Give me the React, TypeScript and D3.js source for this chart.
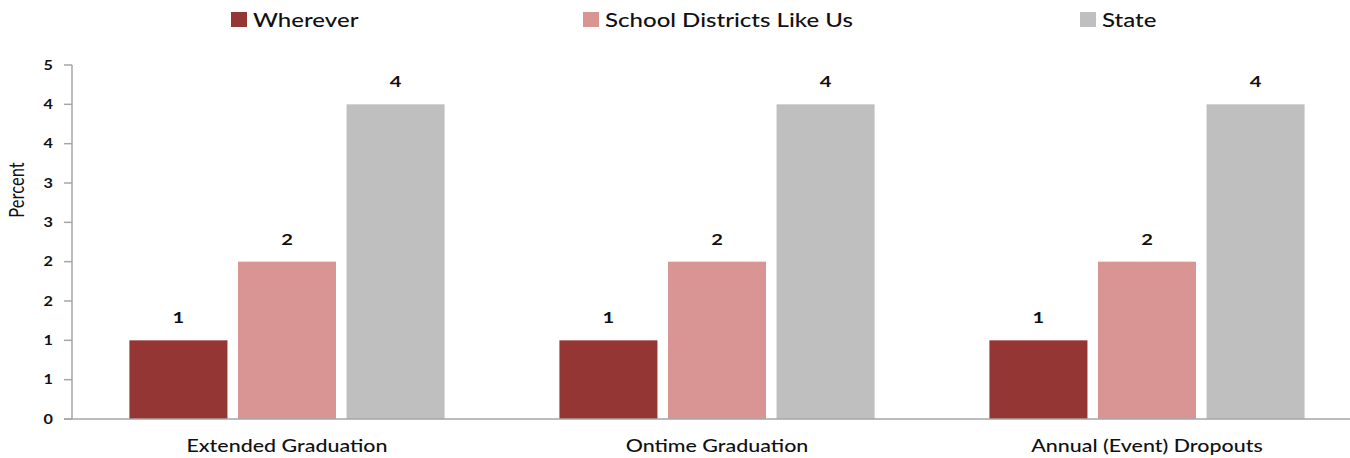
import React from "react";
import * as d3 from "d3";

const categories = ["Extended Graduation", "Ontime Graduation", "Annual (Event) Dropouts"];
const seriesNames = ["Wherever", "School Districts Like Us", "State"];
const seriesColors = ["#943634", "#D99594", "#BFBFBF"];
const wherever = [1.0, 1.0, 1.0];
const districtsLikeUs = [2.0, 2.0, 2.0];
const stateValues = [4.0, 4.0, 4.0];
const valueLabels = [["1", "1", "1"], ["2", "2", "2"], ["4", "4", "4"]];
const yTicks = [0, 0.5, 1, 1.5, 2, 2.5, 3, 3.5, 4, 4.5];
const yTickLabels = ["0", "1", "1", "2", "2", "3", "3", "4", "4", "5"];
const legendX = [231, 583, 1080];

const W = 1350;
const H = 458;
const SX = 1.3;
const FONT = "Lato, 'Liberation Sans', sans-serif";
const TEXT = "#111";

function SText({ x, y, children, size, weight = 400, anchor = "start", rotate = 0 }: any) {
  return (
    <text
      transform={`translate(${x},${y}) scale(${SX},1) rotate(${rotate})`}
      fontFamily={FONT}
      fontSize={size}
      fontWeight={weight}
      textAnchor={anchor}
      fill={TEXT}
    >
      {children}
    </text>
  );
}

export default function App() {
  const series = [wherever, districtsLikeUs, stateValues];
  const x0 = d3.scaleBand<string>().domain(categories).range([72, 1362]).paddingInner(0.267).paddingOuter(0.1335);
  const x1 = d3.scaleBand<number>().domain([0, 1, 2]).range([0, x0.bandwidth()]).paddingInner(0.097);
  const y = d3.scaleLinear().domain([0, 4.5]).range([419, 65]);
  const axisColor = "#A6A6A6";

  return (
    <svg width={W} height={H} style={{ position: "absolute", left: 0, top: 0, background: "#fff" }}>
      {seriesNames.map((name, i) => (
        <g key={name}>
          <rect x={legendX[i]} y={12} width={16} height={15} fill={seriesColors[i]} />
          <SText x={legendX[i] + 22} y={26.5} size={18.5} weight={500}>{name}</SText>
        </g>
      ))}
      <line x1={72} x2={72} y1={y(4.5)} y2={y(0)} stroke={axisColor} strokeWidth={1.5} />
      {yTicks.map((t, i) => (
        <g key={i}>
          <line x1={64} x2={72} y1={y(t)} y2={y(t)} stroke={axisColor} strokeWidth={1.5} />
          <SText x={53} y={y(t) + 4.5} size={12.5} weight={700} anchor="end">{yTickLabels[i]}</SText>
        </g>
      ))}
      <SText x={24} y={190} size={16.5} anchor="middle" rotate={-90}>Percent</SText>
      {categories.map((c, ci) => (
        <g key={c}>
          {series.map((s, si) => (
            <g key={si}>
              <rect
                x={(x0(c) as number) + (x1(si) as number)}
                y={y(s[ci])}
                width={x1.bandwidth()}
                height={y(0) - y(s[ci])}
                fill={seriesColors[si]}
              />
              <SText
                x={(x0(c) as number) + (x1(si) as number) + x1.bandwidth() / 2}
                y={y(s[ci]) - 17}
                size={15.5}
                weight={700}
                anchor="middle"
              >
                {valueLabels[si][ci]}
              </SText>
            </g>
          ))}
          <SText x={(x0(c) as number) + x0.bandwidth() / 2} y={451.5} size={16.5} weight={500} anchor="middle">{c}</SText>
        </g>
      ))}
      <line x1={64} x2={W} y1={y(0)} y2={y(0)} stroke={axisColor} strokeWidth={1.5} />
    </svg>
  );
}
